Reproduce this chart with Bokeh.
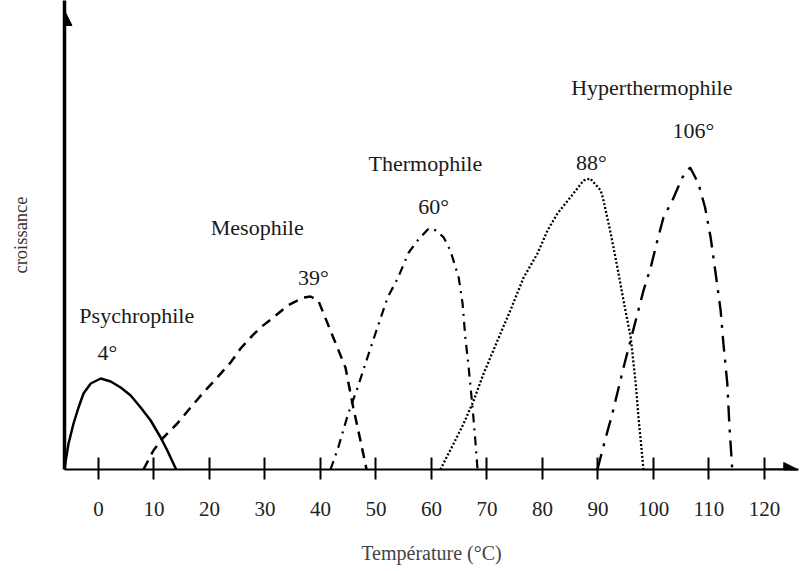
from bokeh.plotting import figure
from bokeh.models import Range1d, LinearAxis, FixedTicker, Arrow, NormalHead, ColumnDataSource
from bokeh.core.properties import value
from bokeh.embed import file_html
from bokeh.resources import INLINE

# ---- data (temperature °C, relative growth) ----
psy_t = [-6.1, -5.9, -5.4, -4.5, -3.6, -2.7, -1.4, 0.4, 2.2, 4.0, 5.8, 7.6, 9.4, 11.2, 12.4, 14.0]
psy_g = [0, 9, 26, 46, 62, 76, 86, 91, 88, 82, 74, 62, 49, 32, 19, 0]

meso_t = [8.1, 9.9, 11.7, 14.2, 16.6, 18.9, 21.4, 23.8, 25.6, 27.4, 29.2, 31.5, 34.1, 36.9, 38.2, 39.6,
          42.3, 44.5, 45.9, 47.2, 48.3]
meso_g = [0, 19, 32, 46, 62, 77, 92, 107, 121, 132, 142, 152, 164, 172, 173, 169,
          132, 102, 62, 29, 0]

thermo_t = [41.8, 43.2, 45.0, 46.7, 48.1, 49.9, 52.1, 53.9, 55.9, 57.5, 59.5, 60.9, 62.2, 63.4, 64.9,
            65.6, 66.1, 66.7, 67.4, 67.9, 68.3]
thermo_g = [0, 22, 56, 82, 106, 136, 172, 191, 217, 229, 241, 239, 232, 219, 192,
            166, 132, 102, 62, 29, 0]

t88_t = [61.6, 64.0, 65.8, 67.6, 69.4, 71.9, 74.2, 76.6, 79.1, 80.9, 82.7, 85.0, 87.4, 88.6, 90.5,
         91.0, 92.3, 93.5, 94.6, 95.9, 96.8, 97.3, 98.2]
t88_g = [0, 26, 46, 69, 96, 129, 159, 192, 216, 239, 256, 272, 289, 291, 279,
         269, 236, 202, 169, 132, 86, 52, 0]

hyper_t = [89.9, 91.4, 92.6, 94.6, 96.8, 98.2, 99.5, 100.7, 101.8, 103.4, 105.2, 106.6, 108.1, 109.3,
           110.3, 111.2, 112.1, 112.6, 113.3, 113.7, 114.2]
hyper_g = [0, 32, 56, 102, 149, 179, 202, 229, 252, 269, 292, 302, 286, 262,
           232, 196, 159, 126, 86, 42, 0]

tick_values = [0, 10, 20, 30, 40, 50, 60, 70, 80, 90, 100, 110, 120]

label_texts = ["Psychrophile", "4°", "Mesophile", "39°", "Thermophile", "60°", "88°", "Hyperthermophile", "106°"]
label_t = [6.9, 1.6, 28.6, 38.7, 58.9, 60.4, 88.8, 99.7, 107.2]
label_g = [154, 117, 242, 192, 306, 263, 307, 382, 339]

FONT = "Liberation Serif"

p = figure(width=802, height=571, output_backend="svg", toolbar_location=None,
           x_range=Range1d(-6.126, 126.13), y_range=Range1d(0, 469),
           x_axis_location=None, y_axis_location=None,
           min_border_left=64, min_border_right=4, min_border_top=0, min_border_bottom=102)
p.outline_line_color = None
p.xgrid.visible = False
p.ygrid.visible = False
p.background_fill_color = "white"
p.border_fill_color = "white"

xaxis = LinearAxis(ticker=FixedTicker(ticks=tick_values), axis_label="Température (°C)")
xaxis.axis_line_width = 2
xaxis.axis_line_color = "black"
xaxis.major_tick_in = 12
xaxis.major_tick_out = 10
xaxis.major_tick_line_width = 2
xaxis.minor_tick_line_color = None
xaxis.major_label_text_font = FONT
xaxis.major_label_text_font_size = "21px"
xaxis.major_label_text_color = "#222222"
xaxis.major_label_standoff = 22
xaxis.axis_label_text_font = FONT
xaxis.axis_label_text_font_size = "20px"
xaxis.axis_label_text_font_style = "normal"
xaxis.axis_label_standoff = 23
p.add_layout(xaxis, "below")

yaxis = LinearAxis(ticker=FixedTicker(ticks=[]), axis_label="croissance")
yaxis.axis_line_width = 3.5
yaxis.axis_line_color = "black"
yaxis.major_tick_line_color = None
yaxis.minor_tick_line_color = None
yaxis.major_label_text_font_size = "0px"
yaxis.axis_label_text_font = FONT
yaxis.axis_label_text_font_size = "18.5px"
yaxis.axis_label_text_font_style = "normal"
yaxis.axis_label_text_color = "#333333"
yaxis.axis_label_standoff = 34
p.add_layout(yaxis, "left")

# arrow heads
p.add_layout(Arrow(end=NormalHead(size=14, fill_color="black", line_color="black"),
                   x_start=120, y_start=0, x_end=126.0, y_end=0, line_width=2, line_color="black"))
p.add_layout(Arrow(end=NormalHead(size=15, fill_color="black", line_color="black"),
                   x_start=-6.126, y_start=420, x_end=-6.126, y_end=459, line_width=3, line_color="black"))

# curves
p.line(psy_t, psy_g, line_color="black", line_width=2.5)
p.line(meso_t, meso_g, line_color="black", line_width=2.5, line_dash="10 7")
p.line(thermo_t, thermo_g, line_color="black", line_width=2.2, line_dash="9 6 2 6")
p.line(t88_t, t88_g, line_color="black", line_width=2.3, line_dash="2 2")
p.line(hyper_t, hyper_g, line_color="black", line_width=2.4, line_dash="16 8 3 8")

src = ColumnDataSource(dict(x=label_t, y=label_g, text=label_texts))
p.text(x="x", y="y", text="text", source=src, text_font=value(FONT), text_font_size="22px",
       text_align="center", text_baseline="middle", text_color="#1a1a1a")

open("out.html", "w").write(file_html(p, INLINE))
